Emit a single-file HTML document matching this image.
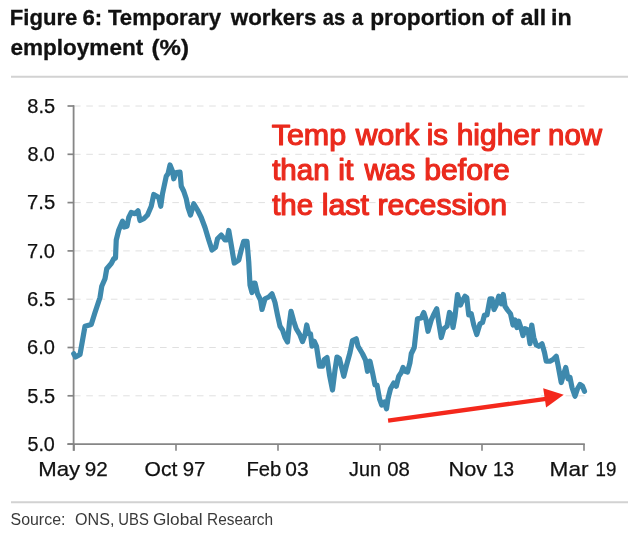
<!DOCTYPE html>
<html><head><meta charset="utf-8"><title>Figure 6</title>
<style>
html,body{margin:0;padding:0;background:#fff;}
body{width:640px;height:541px;overflow:hidden;}
svg{display:block;font-family:"Liberation Sans",sans-serif;}
.title{font-weight:bold;font-size:21.5px;fill:#111;stroke:#111;stroke-width:0.3px;}
.ax{font-size:20.3px;fill:#111;stroke:#111;stroke-width:0.25px;}
.src{font-size:16.3px;fill:#3a3a3a;}
.ann{font-size:29.2px;fill:#ea2a1d;stroke:#ea2a1d;stroke-width:1.2px;stroke-linejoin:round;}
</style></head><body>
<svg width="640" height="541" viewBox="0 0 640 541">
<rect width="640" height="541" fill="#fff"/>
<g class="title">
<text x="9.77" y="25" textLength="67.63" lengthAdjust="spacingAndGlyphs">Figure</text>
<text x="82.46" y="25" textLength="19.74" lengthAdjust="spacingAndGlyphs">6:</text>
<text x="107.95" y="25" textLength="113.06" lengthAdjust="spacingAndGlyphs">Temporary</text>
<text x="230.80" y="25" textLength="85.56" lengthAdjust="spacingAndGlyphs">workers</text>
<text x="322.74" y="25" textLength="22.33" lengthAdjust="spacingAndGlyphs">as</text>
<text x="351.94" y="25" textLength="11.08" lengthAdjust="spacingAndGlyphs">a</text>
<text x="370.23" y="25" textLength="114.92" lengthAdjust="spacingAndGlyphs">proportion</text>
<text x="491.64" y="25" textLength="21.57" lengthAdjust="spacingAndGlyphs">of</text>
<text x="520.49" y="25" textLength="25.73" lengthAdjust="spacingAndGlyphs">all</text>
<text x="551.10" y="25" textLength="20.68" lengthAdjust="spacingAndGlyphs">in</text>
<text x="10.45" y="55" textLength="132.81" lengthAdjust="spacingAndGlyphs">employment</text>
<text x="151.52" y="55" textLength="37.40" lengthAdjust="spacingAndGlyphs">(%)</text>
</g>
<line x1="11" y1="76.8" x2="628" y2="76.8" stroke="#d2d2d2" stroke-width="1.9"/>
<line x1="74" y1="106.0" x2="585.4" y2="106.0" stroke="#e0e0e0" stroke-width="1.0" stroke-dasharray="6.6 5.69"/>
<line x1="74" y1="154.3" x2="585.4" y2="154.3" stroke="#e0e0e0" stroke-width="1.0" stroke-dasharray="6.6 5.69"/>
<line x1="74" y1="202.6" x2="585.4" y2="202.6" stroke="#e0e0e0" stroke-width="1.0" stroke-dasharray="6.6 5.69"/>
<line x1="74" y1="250.9" x2="585.4" y2="250.9" stroke="#e0e0e0" stroke-width="1.0" stroke-dasharray="6.6 5.69"/>
<line x1="74" y1="299.2" x2="585.4" y2="299.2" stroke="#e0e0e0" stroke-width="1.0" stroke-dasharray="6.6 5.69"/>
<line x1="74" y1="347.5" x2="585.4" y2="347.5" stroke="#e0e0e0" stroke-width="1.0" stroke-dasharray="6.6 5.69"/>
<line x1="74" y1="395.8" x2="585.4" y2="395.8" stroke="#e0e0e0" stroke-width="1.0" stroke-dasharray="6.6 5.69"/>

<line x1="73.6" y1="105.3" x2="73.6" y2="450.8" stroke="#868686" stroke-width="1.8"/>
<line x1="67.5" y1="444.1" x2="584.8" y2="444.1" stroke="#868686" stroke-width="1.7"/>
<line x1="67.5" y1="106.0" x2="74" y2="106.0" stroke="#848484" stroke-width="1.7"/>
<line x1="67.5" y1="154.3" x2="74" y2="154.3" stroke="#848484" stroke-width="1.7"/>
<line x1="67.5" y1="202.6" x2="74" y2="202.6" stroke="#848484" stroke-width="1.7"/>
<line x1="67.5" y1="250.9" x2="74" y2="250.9" stroke="#848484" stroke-width="1.7"/>
<line x1="67.5" y1="299.2" x2="74" y2="299.2" stroke="#848484" stroke-width="1.7"/>
<line x1="67.5" y1="347.5" x2="74" y2="347.5" stroke="#848484" stroke-width="1.7"/>
<line x1="67.5" y1="395.8" x2="74" y2="395.8" stroke="#848484" stroke-width="1.7"/>
<line x1="67.5" y1="444.1" x2="74" y2="444.1" stroke="#848484" stroke-width="1.7"/>
<line x1="74" y1="444.1" x2="74" y2="450.8" stroke="#848484" stroke-width="1.6"/>
<line x1="176" y1="444.1" x2="176" y2="450.8" stroke="#848484" stroke-width="1.6"/>
<line x1="278" y1="444.1" x2="278" y2="450.8" stroke="#848484" stroke-width="1.6"/>
<line x1="380" y1="444.1" x2="380" y2="450.8" stroke="#848484" stroke-width="1.6"/>
<line x1="482" y1="444.1" x2="482" y2="450.8" stroke="#848484" stroke-width="1.6"/>
<line x1="584" y1="444.1" x2="584" y2="450.8" stroke="#848484" stroke-width="1.6"/>

<g class="ax">
<text x="27.37" y="112.7" textLength="27.84" lengthAdjust="spacingAndGlyphs">8.5</text>
<text x="27.38" y="161.0" textLength="27.51" lengthAdjust="spacingAndGlyphs">8.0</text>
<text x="27.05" y="209.3" textLength="28.17" lengthAdjust="spacingAndGlyphs">7.5</text>
<text x="27.06" y="257.6" textLength="27.84" lengthAdjust="spacingAndGlyphs">7.0</text>
<text x="27.05" y="305.9" textLength="28.17" lengthAdjust="spacingAndGlyphs">6.5</text>
<text x="27.06" y="354.2" textLength="27.84" lengthAdjust="spacingAndGlyphs">6.0</text>
<text x="27.37" y="402.5" textLength="27.84" lengthAdjust="spacingAndGlyphs">5.5</text>
<text x="27.38" y="450.8" textLength="27.51" lengthAdjust="spacingAndGlyphs">5.0</text>
<text x="38.27" y="475.6" textLength="41.93" lengthAdjust="spacingAndGlyphs">May</text>
<text x="84.73" y="475.6" textLength="23.01" lengthAdjust="spacingAndGlyphs">92</text>
<text x="144.51" y="475.6" textLength="32.82" lengthAdjust="spacingAndGlyphs">Oct</text>
<text x="182.74" y="475.6" textLength="22.68" lengthAdjust="spacingAndGlyphs">97</text>
<text x="246.42" y="475.6" textLength="34.80" lengthAdjust="spacingAndGlyphs">Feb</text>
<text x="285.35" y="475.6" textLength="23.30" lengthAdjust="spacingAndGlyphs">03</text>
<text x="349.09" y="475.6" textLength="31.92" lengthAdjust="spacingAndGlyphs">Jun</text>
<text x="387.26" y="475.6" textLength="22.66" lengthAdjust="spacingAndGlyphs">08</text>
<text x="448.50" y="475.6" textLength="38.70" lengthAdjust="spacingAndGlyphs">Nov</text>
<text x="493.02" y="475.6" textLength="21.05" lengthAdjust="spacingAndGlyphs">13</text>
<text x="549.64" y="475.6" textLength="38.87" lengthAdjust="spacingAndGlyphs">Mar</text>
<text x="595.53" y="475.6" textLength="20.83" lengthAdjust="spacingAndGlyphs">19</text>
</g>
<path d="M73.75 353.75 L75.5 357 L80 354.5 L85 326.25 L91.25 324.5 L95 312.5 L100 297.5 L101.75 286.25 L105 278.75 L106.75 268.75 L111.25 263.5 L113.75 258.75 L115.5 258 L116.25 240 L118.75 230 L122.5 221.25 L124.25 227 L127 226.25 L128.75 217.5 L131.25 212.5 L135 213.75 L138 210.75 L140 220.5 L143.75 218.75 L147.5 215 L151.25 206.25 L153.75 194.5 L158.75 197.5 L160.75 206.25 L162.5 193.75 L166.25 176.25 L168 173.75 L170 165 L172.5 171.25 L173.75 178.75 L176.25 172.5 L180 172 L181.25 186.25 L183.75 191.25 L186.25 198.75 L188 207.5 L190.5 215 L193.75 203.75 L197.5 210 L201.25 217.5 L205 227.5 L208.75 240 L212 250 L215.5 247.5 L217.5 238.75 L221.25 235 L225 240 L227 240 L228.75 230.5 L231.25 245 L234.25 263 L238.75 260 L241.25 250 L243.75 241.25 L247 241.25 L248.75 262 L250 285 L252 292.5 L253.75 283 L255 283 L257.5 293.75 L260.5 300 L262 309.5 L265 298.75 L268.75 297 L272 293.75 L275 302.5 L277.5 315 L280 326.25 L282.5 330 L285 337.5 L287.5 342 L289.5 322.5 L291 311.25 L293.75 321.25 L296.25 328.75 L300 335 L302.5 341.5 L305 335 L306.75 325 L308.75 333.75 L310.5 333.75 L312 346.25 L314.25 341.25 L316.5 346.25 L319.5 366.25 L322.5 366.25 L324.25 359.5 L327 357.5 L329.5 375 L332.5 390 L335 370 L337 357 L339.5 358.75 L343.75 376.25 L346.25 366.25 L350 352.5 L352.5 340.5 L356.25 338.75 L358 346.25 L362.5 353.75 L365.5 360 L367.5 371.25 L370 361.25 L372.5 372.5 L375 385 L377 385 L379.5 398.75 L381.75 405 L384.5 402 L386.5 408.75 L388 398.75 L390.5 388.75 L393.75 383 L396.25 386.25 L398.75 376.25 L401.25 372.5 L403 367.5 L405 371.25 L407.5 372 L410 362.5 L411.25 353.75 L414.25 347.5 L415.5 336.25 L417.5 318.75 L421.25 318 L423.75 312.5 L425.75 318.75 L428 331.25 L431.25 320 L433.5 315 L436.75 308.75 L438.75 322.5 L441.25 337.5 L443.75 328.75 L447 326.25 L449.5 312.5 L451.25 315 L453 327.5 L455 316.25 L457.5 294.5 L460.5 305 L462.5 300.5 L465 296.25 L466.75 297.5 L468.75 315 L471.25 313.75 L473.75 325 L476.75 334.5 L480 323.75 L482.5 322.5 L484.5 315 L487 315 L490 298.75 L492 298.75 L494 309.5 L496.25 305 L498.75 296.25 L501.25 303.75 L503.25 294.5 L505 306.25 L507.5 310 L510.5 313.75 L513 325 L515 320 L517 327.5 L518.75 321.25 L521.25 328.75 L523 335.5 L525 328.75 L528 330 L530 343.75 L531.75 325 L533.75 337.5 L536.25 345 L538.75 346.25 L542 343.75 L544.5 352.5 L546.25 361.25 L550 361.25 L553 359.5 L556.25 356.25 L558 365 L561.25 382.5 L563.75 373.75 L565.75 367.5 L568 378.75 L570 377.5 L572 387.5 L575 396.25 L577.5 388.75 L580 384.5 L582.5 386.25 L584.5 391.25" fill="none" stroke="#3e89ad" stroke-width="5.2" stroke-linejoin="round" stroke-linecap="round"/>
<g class="ann">
<text x="271.72" y="144.8" textLength="74.41" lengthAdjust="spacingAndGlyphs">Temp</text>
<text x="355.77" y="144.8" textLength="63.66" lengthAdjust="spacingAndGlyphs">work</text>
<text x="426.76" y="144.8" textLength="21.26" lengthAdjust="spacingAndGlyphs">is</text>
<text x="456.73" y="144.8" textLength="83.22" lengthAdjust="spacingAndGlyphs">higher</text>
<text x="548.06" y="144.8" textLength="53.98" lengthAdjust="spacingAndGlyphs">now</text>
<text x="272.20" y="179.8" textLength="57.35" lengthAdjust="spacingAndGlyphs">than</text>
<text x="338.30" y="179.8" textLength="15.20" lengthAdjust="spacingAndGlyphs">it</text>
<text x="364.45" y="179.8" textLength="50.85" lengthAdjust="spacingAndGlyphs">was</text>
<text x="424.21" y="179.8" textLength="85.71" lengthAdjust="spacingAndGlyphs">before</text>
<text x="272.20" y="214.8" textLength="40.89" lengthAdjust="spacingAndGlyphs">the</text>
<text x="321.70" y="214.8" textLength="47.30" lengthAdjust="spacingAndGlyphs">last</text>
<text x="377.51" y="214.8" textLength="129.59" lengthAdjust="spacingAndGlyphs">recession</text>
</g>
<line x1="388.1" y1="420.6" x2="546" y2="398.8" stroke="#f4281c" stroke-width="4.3"/>
<polygon points="543.2,388.2 563.7,394.8 546.1,407.4" fill="#f4281c"/>
<line x1="11" y1="502.3" x2="628" y2="502.3" stroke="#d2d2d2" stroke-width="1.9"/>
<g class="src">
<text x="10.50" y="524.8" textLength="54.94" lengthAdjust="spacingAndGlyphs">Source:</text>
<text x="75.05" y="524.8" textLength="39.36" lengthAdjust="spacingAndGlyphs">ONS,</text>
<text x="118.27" y="524.8" textLength="30.55" lengthAdjust="spacingAndGlyphs">UBS</text>
<text x="152.94" y="524.8" textLength="49.69" lengthAdjust="spacingAndGlyphs">Global</text>
<text x="207.10" y="524.8" textLength="65.97" lengthAdjust="spacingAndGlyphs">Research</text>
</g>
</svg>
</body></html>
